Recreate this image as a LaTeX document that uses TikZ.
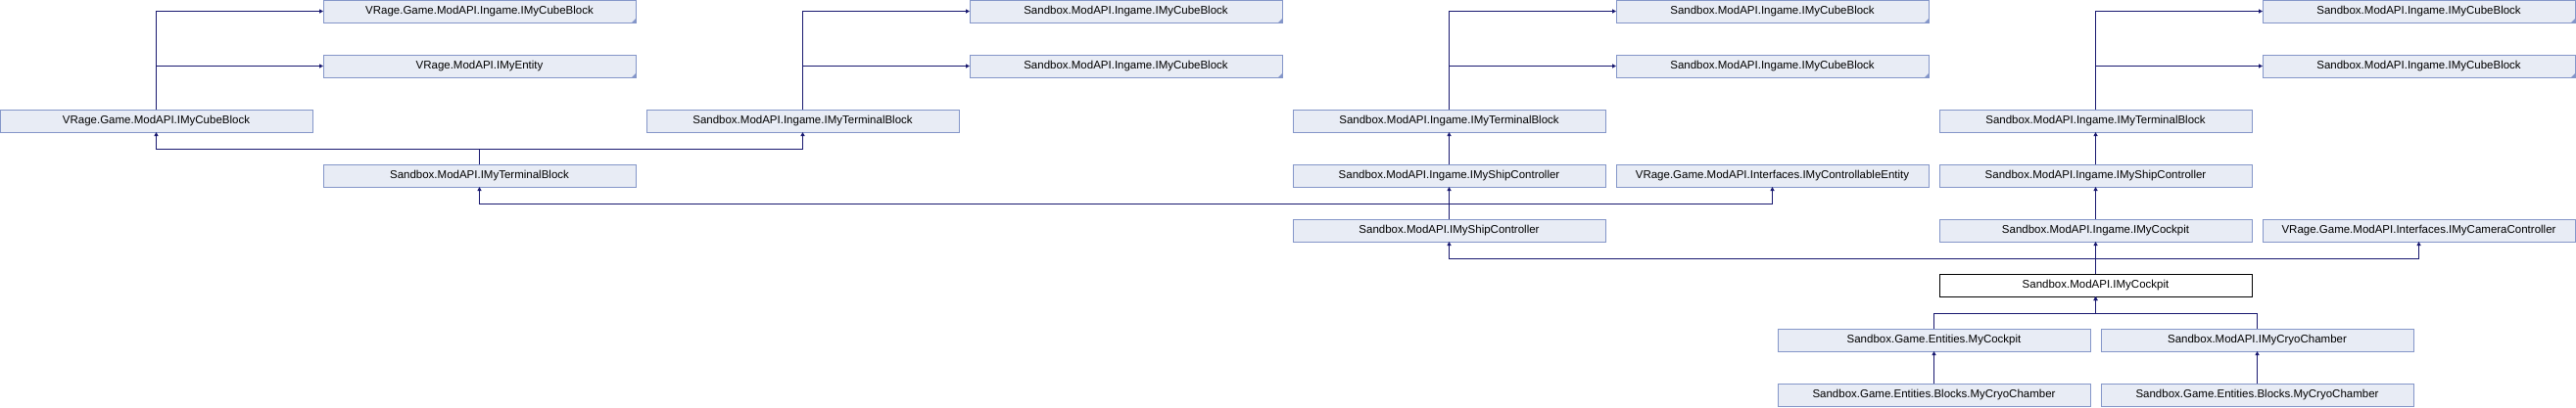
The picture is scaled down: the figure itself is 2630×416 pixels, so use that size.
\documentclass[tikz,border=0pt]{standalone}
\usepackage{fontspec}
\setmainfont{Liberation Sans}
\usetikzlibrary{arrows.meta,positioning}
\definecolor{nodefill}{HTML}{E8ECF5}
\definecolor{nodeline}{HTML}{8496C9}
\definecolor{edgeblue}{HTML}{191970}
\tikzset{cls/.style={draw=nodeline,fill=nodefill,line width=1pt,outer sep=0pt,inner sep=0pt,minimum width=319pt,minimum height=23pt,font=\fontsize{11.5}{12}\selectfont},trunc/.style={cls,path picture={\fill[nodeline] (path picture bounding box.south east) -- ++(-4pt,0pt) -- ++(4pt,4pt) -- cycle;}},focus/.style={cls,draw=black,fill=white},arrow/.style={-{Triangle[width=4pt,length=4pt]},draw=edgeblue,line width=1pt}}

\begin{document}
\begin{tikzpicture}[node distance=33pt and 11pt]
\useasboundingbox (0pt,0pt) rectangle (2630pt,-416pt);
\node[trunc] (vIngCube) at (489.5pt,-11.5pt) {VRage.Game.ModAPI.Ingame.IMyCubeBlock};
\node[trunc,below=of vIngCube] (vEntity) {VRage.ModAPI.IMyEntity};
\node[cls,below left=of vEntity] (vCube) {VRage.Game.ModAPI.IMyCubeBlock};
\node[cls,below right=of vCube] (term) {Sandbox.ModAPI.IMyTerminalBlock};
\node[cls,above right=of term] (ingTermA) {Sandbox.ModAPI.Ingame.IMyTerminalBlock};
\node[trunc,above right=of ingTermA] (sIngCubeD) {Sandbox.ModAPI.Ingame.IMyCubeBlock};
\node[trunc,above=of sIngCubeD] (sIngCubeA) {Sandbox.ModAPI.Ingame.IMyCubeBlock};
\node[cls,below right=of sIngCubeD] (ingTermB) {Sandbox.ModAPI.Ingame.IMyTerminalBlock};
\node[trunc,above right=of ingTermB] (sIngCubeE) {Sandbox.ModAPI.Ingame.IMyCubeBlock};
\node[trunc,above=of sIngCubeE] (sIngCubeB) {Sandbox.ModAPI.Ingame.IMyCubeBlock};
\node[cls,below right=of sIngCubeE] (ingTermC) {Sandbox.ModAPI.Ingame.IMyTerminalBlock};
\node[trunc,above right=of ingTermC] (sIngCubeF) {Sandbox.ModAPI.Ingame.IMyCubeBlock};
\node[trunc,above=of sIngCubeF] (sIngCubeC) {Sandbox.ModAPI.Ingame.IMyCubeBlock};
\node[cls,below=of ingTermB] (ingShipA) {Sandbox.ModAPI.Ingame.IMyShipController};
\node[cls,right=of ingShipA] (ctrlEnt) {VRage.Game.ModAPI.Interfaces.IMyControllableEntity};
\node[cls,below=of ingTermC] (ingShipB) {Sandbox.ModAPI.Ingame.IMyShipController};
\node[cls,below=of ingShipA] (ship) {Sandbox.ModAPI.IMyShipController};
\node[cls,below=of ingShipB] (ingCockpit) {Sandbox.ModAPI.Ingame.IMyCockpit};
\node[cls,right=of ingCockpit] (camCtrl) {VRage.Game.ModAPI.Interfaces.IMyCameraController};
\node[focus,below=of ingCockpit] (cockpit) {Sandbox.ModAPI.IMyCockpit};
\node[cls,below=of cockpit,xshift=-165pt] (myCockpit) {Sandbox.Game.Entities.MyCockpit};
\node[cls,right=of myCockpit] (cryo) {Sandbox.ModAPI.IMyCryoChamber};
\node[cls,below=of myCockpit] (blkCryoA) {Sandbox.Game.Entities.Blocks.MyCryoChamber};
\node[cls,below=of cryo] (blkCryoB) {Sandbox.Game.Entities.Blocks.MyCryoChamber};
\draw[arrow] (vCube.north) |- (vIngCube.west); \draw[arrow] (vCube.north) |- (vEntity.west);
\draw[arrow] (ingTermA.north) |- (sIngCubeA.west); \draw[arrow] (ingTermA.north) |- (sIngCubeD.west);
\draw[arrow] (ingTermB.north) |- (sIngCubeB.west); \draw[arrow] (ingTermB.north) |- (sIngCubeE.west);
\draw[arrow] (ingTermC.north) |- (sIngCubeC.west); \draw[arrow] (ingTermC.north) |- (sIngCubeF.west);
\draw[arrow] (term.north) -- ++(0,16pt) -| (vCube.south); \draw[arrow] (term.north) -- ++(0,16pt) -| (ingTermA.south);
\draw[arrow] (ingShipA)--(ingTermB); \draw[arrow] (ingShipB)--(ingTermC); \draw[arrow] (ship)--(ingShipA);
\draw[arrow] (ship.north) -- ++(0,16pt) -| (term.south); \draw[arrow] (ship.north) -- ++(0,16pt) -| (ctrlEnt.south);
\draw[arrow] (ingCockpit)--(ingShipB); \draw[arrow] (cockpit)--(ingCockpit);
\draw[arrow] (cockpit.north) -- ++(0,16pt) -| (ship.south); \draw[arrow] (cockpit.north) -- ++(0,16pt) -| (camCtrl.south);
\draw[arrow] (myCockpit.north) -- ++(0,16pt) -| (cockpit.south); \draw[arrow] (cryo.north) -- ++(0,16pt) -| (cockpit.south);
\draw[arrow] (blkCryoA)--(myCockpit); \draw[arrow] (blkCryoB)--(cryo);
\end{tikzpicture}
\end{document}
